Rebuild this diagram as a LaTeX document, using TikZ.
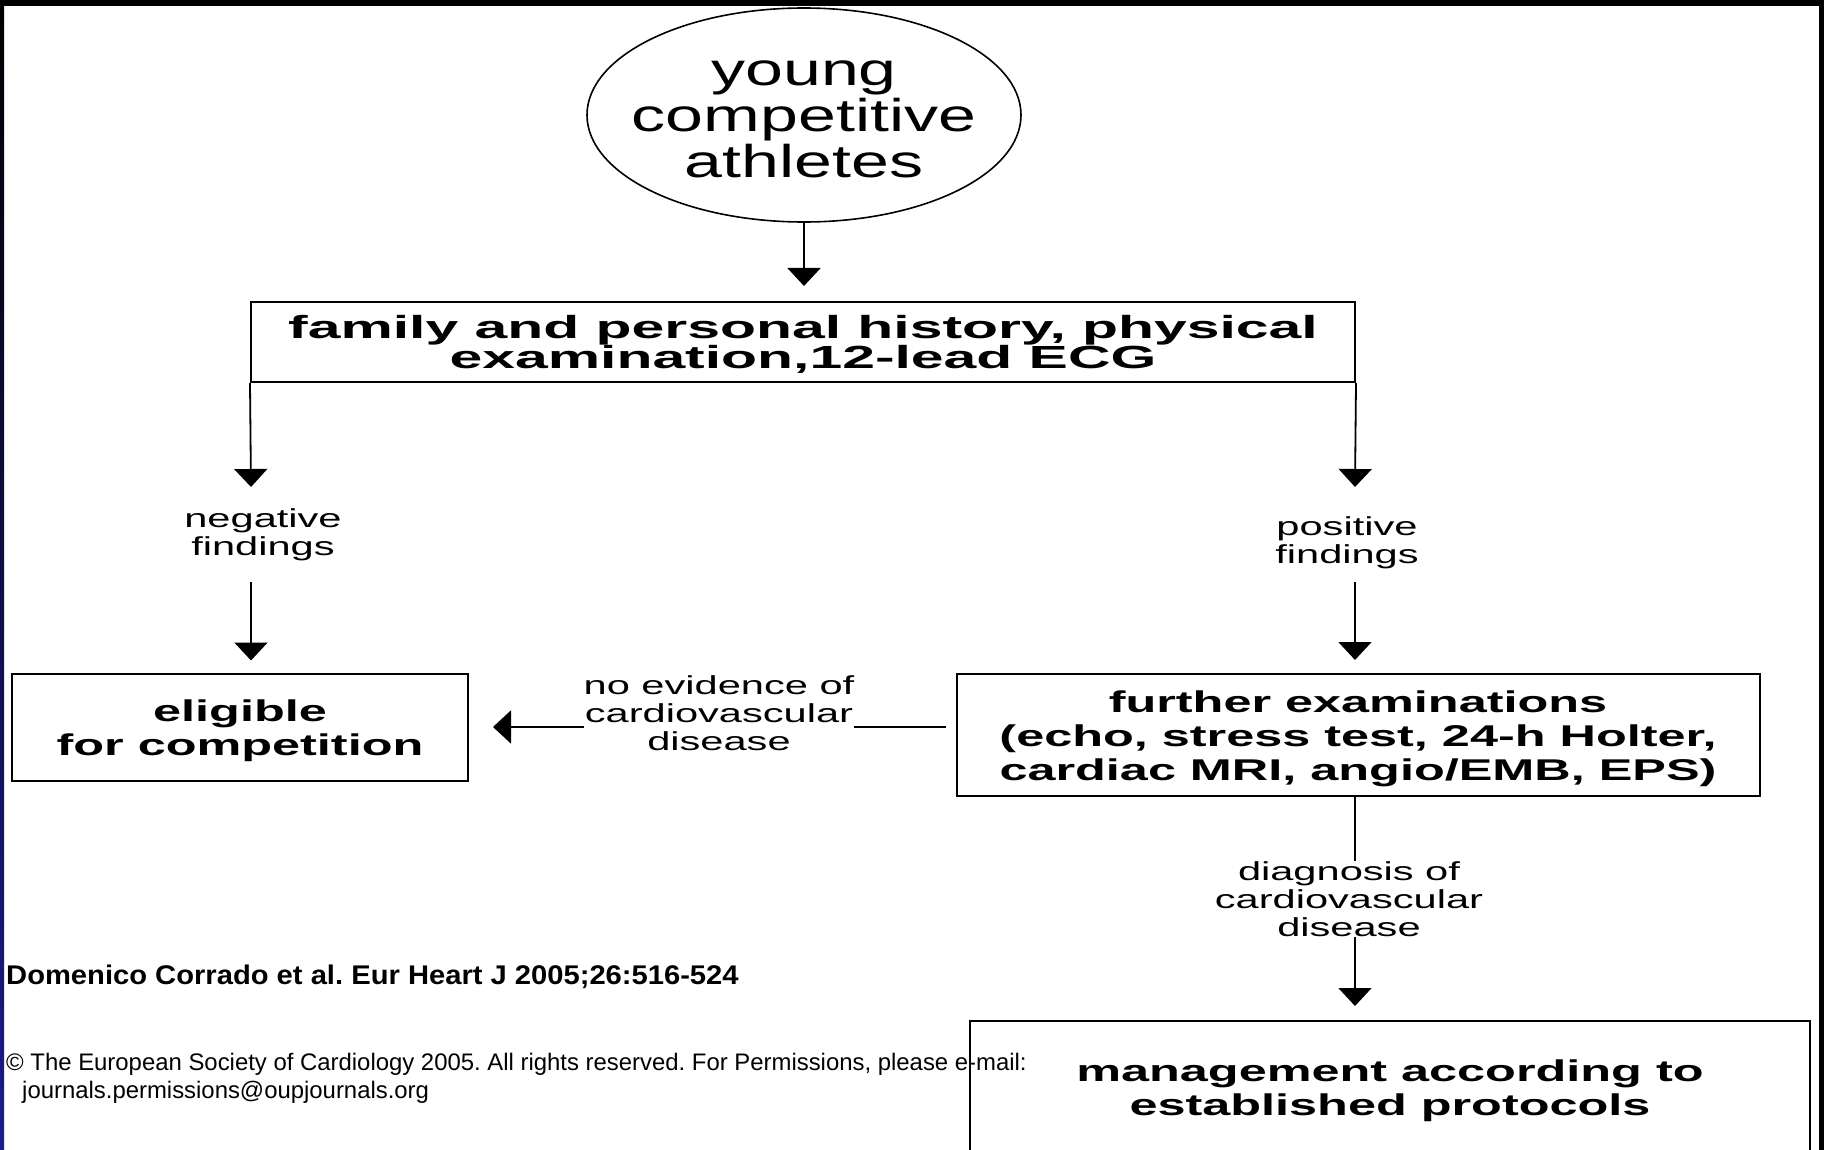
\documentclass[tikz,border=0pt]{standalone}
\usepackage{fontspec}
\setmainfont{Liberation Sans}
\newfontfamily\ovalfont[FakeStretch=1.48]{Liberation Sans}
\newfontfamily\headfont[FakeStretch=1.84]{Liberation Sans}
\newfontfamily\boxfont[FakeStretch=1.68]{Liberation Sans}
\newfontfamily\findfont[FakeStretch=1.6]{Liberation Sans}
\newfontfamily\citefont[FakeStretch=1.08]{Liberation Sans}
\usepackage[x11names, svgnames]{xcolor}
\usetikzlibrary{arrows.meta, calc, shapes.geometric}
\definecolor{slideblue}{RGB}{28,28,140}
\def\scale{1}
\def\lift#1{\rule{0pt}{#1pt}}
\frenchspacing

\tikzset{
  box/.style={draw=black, line width=2pt, rectangle, align=center, inner sep=0pt, font=\boxfont\bfseries\fontsize{30}{34}\selectfont},
  findings/.style={align=center, inner sep=0pt, font=\findfont\fontsize{26}{28}\selectfont},
  flow/.style={line width=1.8pt, -{Triangle[width=33pt, length=18pt]}},
}

\begin{document}
\begin{tikzpicture}[x=\scale pt, y=-\scale pt]
  \fill[white] (0,0) rectangle (1824,1150);
  \useasboundingbox (0,0) rectangle (1824,1150);
  \clip (0,0) rectangle (1824,1150);
  % \draw[gray!30] (0,0) grid[step=100] (1824,1150);

  % slide frame
  \fill[black] (0,0) rectangle (1824,6);
  \shade[top color=black, middle color=black, bottom color=slideblue] (0,0) rectangle (4,1150);
  \fill[black] (1819,0) rectangle (1824,1150);

  \node[draw, ellipse, line width=1.6pt, minimum width=434pt, minimum height=214pt, inner sep=0pt] (athletes) at (804,115) {};
  \node[align=center, inner sep=0pt, yshift=-4pt, font=\ovalfont\fontsize{46}{46}\selectfont] (athletestext) at (athletes.center) {young\\competitive\\athletes};

  \node[box, minimum width=1104pt, minimum height=80pt, font=\headfont\bfseries\fontsize{32}{30}\selectfont] (history) at (803,342) {\lift{27}family and personal history, physical\\examination,12-lead ECG};
  \node[box, minimum width=456pt, minimum height=107pt] (eligible) at (240,727) {\lift{30}eligible\\for competition};
  \node[box, minimum width=803pt, minimum height=122pt] (further) at (1358,735) {\lift{30}further examinations\\(echo, stress test, 24-h Holter,\\cardiac MRI, angio/EMB, EPS)};
  \node[box, minimum width=840pt, minimum height=134pt] (management) at (1390,1088) {\lift{27}management according to\\established protocols};

  \coordinate (negend) at (251,487);
  \coordinate (negstart) at (251,582);
  \coordinate (posend) at (1355,487);
  \coordinate (posstart) at (1355,582);

  \draw[flow, shorten >=15pt] (athletes.south) -- (athletes.south |- history.north);
  \draw[flow] (history.south west) -- (negend);
  \draw[flow, shorten >=12pt] (negstart) -- (negstart |- eligible.north);
  \draw[flow] (history.south east) -- (posend);
  \draw[flow, shorten >=13pt] (posstart) -- (posstart |- further.north);
  \draw[flow, shorten <=10pt, shorten >=24pt] (further.west |- eligible.east) -- (eligible.east);
  \draw[flow, shorten >=14pt] (further.south -| posstart) -- (management.north -| posstart);

  \node[findings] (negative) at (263,535) {negative\\findings};
  \node[findings] (positive) at (1347,543) {positive\\findings};
  \node[findings, fill=white] (noevidence) at (719,713) {no evidence of\\cardiovascular\\disease};
  \node[findings, fill=white] (diagnosis) at (1349,899) {diagnosis of\\cardiovascular\\disease};

  \node[anchor=base west, inner sep=0pt, font=\citefont\bfseries\fontsize{27}{30}\selectfont] (citation) at (6,984) {Domenico Corrado et al. Eur Heart J 2005;26:516-524};
  \node[anchor=base west, inner sep=0pt, font=\fontsize{23.9}{28}\selectfont] (copyright) at (6,1070) {© The European Society of Cardiology 2005. All rights reserved. For Permissions, please e-mail:};
  \node[anchor=base west, inner sep=0pt, font=\fontsize{23.9}{28}\selectfont] (permissions) at (22,1098) {journals.permissions@oupjournals.org};
\end{tikzpicture}
\end{document}
